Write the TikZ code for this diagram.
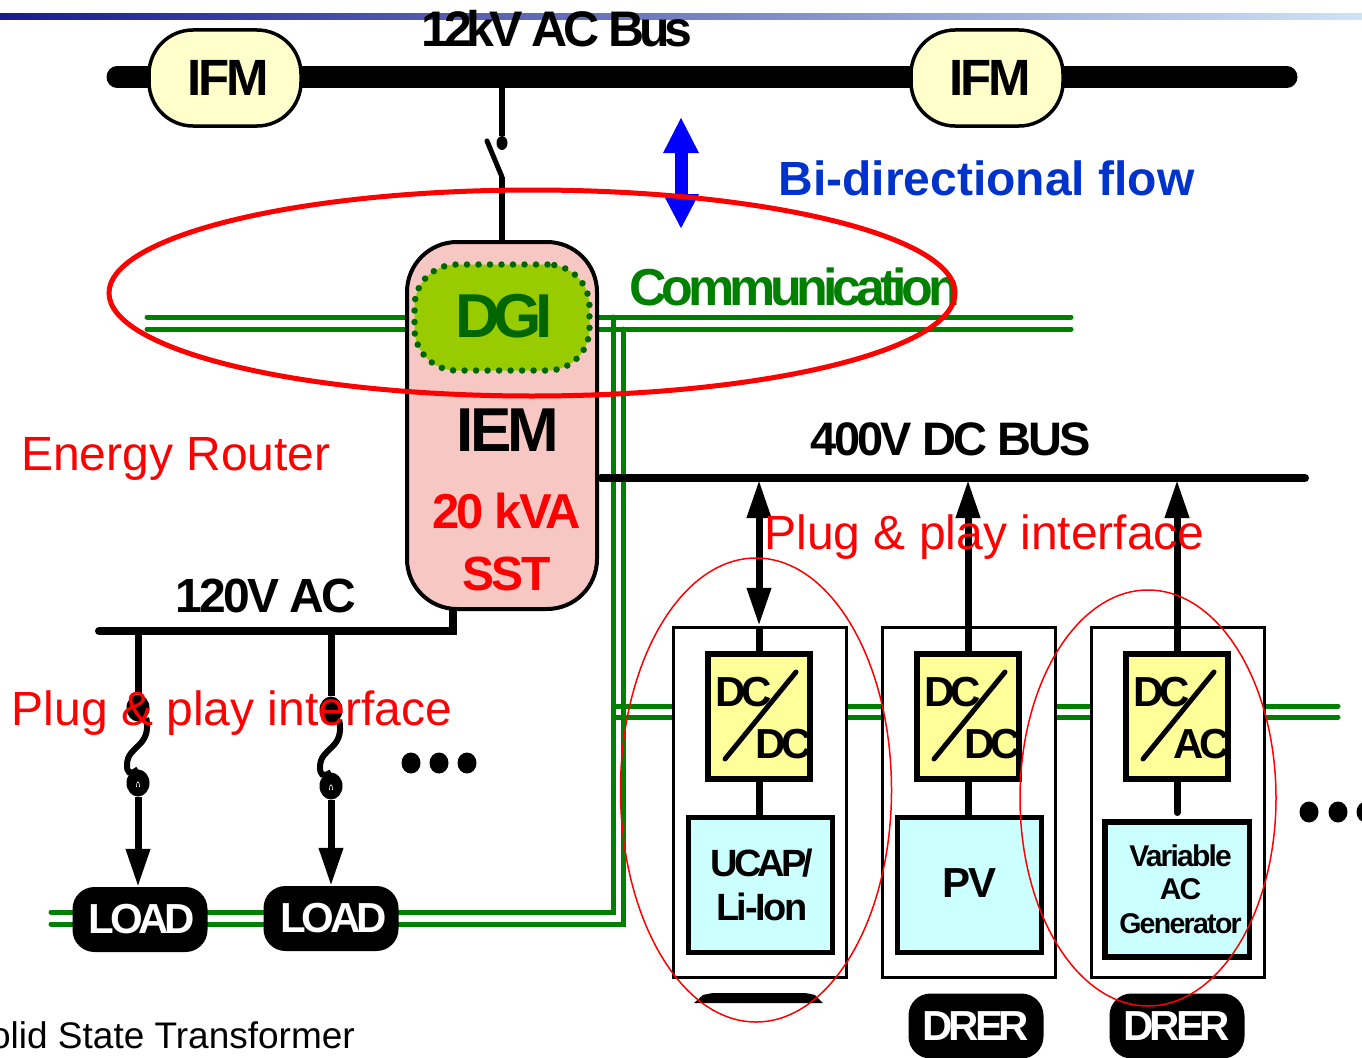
\documentclass[tikz,border=0pt]{standalone}
\usepackage{fontspec}
\setmainfont{Liberation Sans}
\newfontfamily\tightfont[LetterSpace=-6]{Liberation Sans}
\newfontfamily\tighterfont[LetterSpace=-10]{Liberation Sans}
\usetikzlibrary{arrows.meta,shapes.geometric,shapes.misc}
\definecolor{barleft}{HTML}{1A1A90}
\definecolor{barright}{HTML}{CFE3F5}
\definecolor{ifmfill}{HTML}{FFFFCC}
\definecolor{sstfill}{HTML}{F6C7C3}
\definecolor{dgifill}{HTML}{99CC00}
\definecolor{dgidark}{HTML}{006600}
\definecolor{commgreen}{HTML}{008000}
\definecolor{convfill}{HTML}{FFFF99}
\definecolor{srcfill}{HTML}{CCFFFF}
\definecolor{flowblue}{HTML}{0033CC}
\newcommand{\fsz}[1]{\fontsize{#1}{#1}\selectfont}
\newcommand{\heavy}[1]{\fsz{#1}\tightfont\bfseries}
\newcommand{\heavier}[1]{\fsz{#1}\tighterfont\bfseries}
\begin{document}
\begin{tikzpicture}[
    x=1pt, y=-1pt,
    >={Triangle[width=23pt,length=38pt]},
    busline/.style={line width=7pt, line cap=round},
    conn/.style={line width=7pt},
    comm/.style={commgreen, line width=5pt, line cap=round},
    ifm/.style={draw, line width=3.5pt, fill=ifmfill, rounded corners=44pt, minimum width=152pt, minimum height=96pt, inner sep=0pt, font=\heavy{51}},
    tag/.style={fill=black, text=white, rounded corners=22pt, minimum width=135pt, minimum height=65pt, inner sep=0pt, font=\heavier{42}},
    holder/.style={draw, line width=3.5pt, fill=white, minimum width=173pt, minimum height=350pt, inner sep=0pt},
    conv/.style={draw, line width=6pt, fill=convfill, minimum width=102pt, minimum height=125pt, inner sep=0pt},
    src/.style={draw, line width=5.5pt, fill=srcfill, minimum width=144pt, minimum height=135pt, inner sep=0pt},
    srctext/.style={inner sep=0pt, align=center},
    dcdc/.style={anchor=base, inner sep=0pt, font=\heavier{42}},
    redtext/.style={anchor=base, red, inner sep=0pt, font=\fsz{48}},
    dot/.style={ellipse, fill=black, minimum width=19pt, minimum height=21pt, inner sep=0pt},
    blob/.style={ellipse, fill=black, minimum width=23pt, minimum height=27pt, inner sep=0pt}
    ]
    \useasboundingbox (0,0) rectangle (1362,1057);

    % top bar and AC bus
    \shade[left color=barleft, right color=barright] (0,14) rectangle (1362,20);
    \coordinate (acleft) at (117,77);
    \coordinate (acright) at (1287,77);
    \coordinate (actap) at (502,77);
    \draw[line width=21pt, line cap=round] (acleft) -- (acright);
    \node[ifm] (ifma) at (225,78) {\hspace*{7pt}IFM};
    \node[ifm] (ifmb) at (987,78) {\hspace*{7pt}IFM};
    \node[anchor=base, inner sep=0pt, font=\heavier{50}] (acbus) at (557,47) {12kV AC Bus};

    % switch
    \node[ellipse, fill=black, minimum width=11pt, minimum height=14pt, inner sep=0pt] (swtop) at (502,143) {};
    \coordinate (swbend) at (502,177);
    \coordinate (swblade) at (487,141);
    \draw[line width=6pt] (actap) -- (swtop);
    \draw[line width=5pt, line cap=round] (swblade) -- (swbend);

    % communication lines
    \coordinate (commwa) at (147,317);
    \coordinate (commwb) at (147,329);
    \coordinate (commea) at (1071,317);
    \coordinate (commeb) at (1071,329);
    \coordinate (commja) at (613,317);
    \coordinate (commjb) at (623,329);
    \coordinate (commsa) at (613,912);
    \coordinate (commsb) at (623,924);
    \coordinate (commla) at (51,912);
    \coordinate (commlb) at (51,924);
    \coordinate (commda) at (616,706);
    \coordinate (commdb) at (616,717);
    \coordinate (commra) at (1338,706);
    \coordinate (commrb) at (1338,717);
    \draw[comm] (commwa) -- (commea);
    \draw[comm] (commwb) -- (commeb);
    \draw[comm] (commja) -- (commsa) -- (commla);
    \draw[comm] (commjb) -- (commsb) -- (commlb);
    \draw[comm] (commda) -- (commra);
    \draw[comm] (commdb) -- (commrb);

    % energy router
    \node[draw, line width=4pt, fill=sstfill, rounded corners=50pt, minimum width=190pt, minimum height=367pt, inner sep=0pt] (sst) at (502,425.5) {};
    \draw[line width=6pt] (swbend) -- (sst.north -| swbend);
    \node[draw=dgidark, line width=6.5pt, line cap=round, dash pattern=on 0pt off 11.5pt, fill=dgifill, rounded corners=42pt, minimum width=175pt, minimum height=106pt, inner sep=0pt] (dgi) at (502,317.5) {};
    \node[anchor=base, dgidark, inner sep=0pt, font=\heavier{62}] (dgitext) at (504,337) {DGI};
    \node[anchor=base, inner sep=0pt, font=\heavy{62}] (iem) at (508,451) {IEM};
    \node[anchor=base, red, inner sep=0pt, font=\heavy{49}] (kva) at (506.5,528) {20 kVA};
    \node[anchor=base, red, inner sep=0pt, font=\heavy{48}] (ssttext) at (506.5,590) {SST};

    % bus labels
    \node[anchor=base, commgreen, inner sep=0pt, font=\heavier{52}] (commtext) at (794.5,305) {Communication};
    \node[anchor=base, flowblue, inner sep=0pt, font=\fsz{48}\bfseries] (flowtext) at (986.5,195) {Bi-directional flow};
    \coordinate (flowtop) at (681,117);
    \coordinate (flowbot) at (681,229);
    \draw[blue, line width=13pt, {Triangle[width=33pt,length=36pt]}-{Triangle[width=33pt,length=35pt]}] (flowtop) -- (flowbot);
    \node[redtext] (router) at (176,470) {Energy Router};

    % DC bus
    \coordinate (dcleft) at (601,478);
    \coordinate (dcright) at (1305,478);
    \draw[line width=8pt, line cap=round] (dcleft) -- (dcright);
    \node[anchor=base, inner sep=0pt, font=\heavy{47}] (dcbus) at (951,455) {400V DC BUS};

    % 120V AC side
    \coordinate (lvleft) at (99,631);
    \coordinate (lvbend) at (453,631);
    \draw[busline, line width=8pt] (sst.south -| lvbend) -- (lvbend) -- (lvleft);
    \node[anchor=base, inner sep=0pt, font=\heavy{48}] (lvbus) at (266,612) {120V AC};
    \coordinate (lvtapa) at (138,631);
    \coordinate (lvtapb) at (331,631);
    \node[blob] (fusea) at (138,708) {};
    \node[blob] (fuseb) at (331,710) {};
    \node[blob] (fusec) at (138,783) {};
    \node[blob] (fused) at (331,786) {};
    \node[tag] (loada) at (140,919.5) {\hspace*{4pt}LOAD};
    \node[tag] (loadb) at (331,918.5) {\hspace*{5pt}LOAD};
    \draw[conn] (lvtapa) -- (fusea);
    \draw[conn] (lvtapb) -- (fuseb);
    \draw[line width=6pt] (fusea.-50) .. controls (152,748) and (127,745) .. (127,765) .. controls (127,772) and (129,776) .. (fusec.north);
    \draw[line width=6pt] (fuseb.-50) .. controls (345,750) and (320,747) .. (320,767) .. controls (320,774) and (322,778) .. (fused.north);
    \draw[white, line width=.6pt] (136.5,787) .. controls (136.5,780) and (139.5,780) .. (139.5,787);
    \draw[white, line width=.6pt] (329.5,790) .. controls (329.5,783) and (332.5,783) .. (332.5,790);
    \draw[conn,->] (fusec) -- (fusec |- loada.north);
    \draw[conn,->] (fused) -- (fused |- loadb.north);
    \node[dot] (dotsa) at (411,763) {};
    \node[dot] (dotsb) at (439,763) {};
    \node[dot] (dotsc) at (467,763) {};

    % DER columns
    \node[holder] (holda) at (760,802.5) {};
    \node[holder] (holdb) at (969,802.5) {};
    \node[holder] (holdc) at (1178,802.5) {};
    \node[conv] (conva) at (759,716.5) {};
    \node[conv] (convb) at (968,716.5) {};
    \node[conv] (convc) at (1177,716.5) {};
    \node[src] (srca) at (760.5,885) {};
    \node[src] (srcb) at (969.5,885) {};
    \node[src, minimum width=144.5pt] (srcc) at (1177,889.5) {};
    \node[srctext, font=\heavier{38}] (srcatext) at (762,885) {UCAP/\\[6pt]{\tightfont\bfseries Li-Ion}};
    \node[srctext, font=\heavy{42}] (srcbtext) at (969.5,883) {PV};
    \node[srctext, font=\heavy{30}] (srcctext) at (1180.5,889) {Variable\\[3pt]AC\\[4pt]{\fsz{28.5}Generator}};
    \coordinate (dctapa) at (759,480);
    \coordinate (dctapb) at (968,480);
    \coordinate (dctapc) at (1177,480);
    \coordinate (stubc) at (1177,812.5);
    \draw[conn,<->] (dctapa) -- (conva.north |- holda.north);
    \draw[conn] (holda.north -| conva) -- (conva.north);
    \draw[conn,->] (convb.north) -- (dctapb);
    \draw[conn,->] (convc.north) -- (dctapc);
    \draw[conn] (conva.south) -- (srca.north -| conva);
    \draw[conn] (convb.south) -- (srcb.north -| convb);
    \draw[conn, line cap=round] (convc.south) -- (stubc);
    \draw[line width=5pt, line cap=round] (725,759) -- (796,672);
    \draw[line width=5pt, line cap=round] (934,759) -- (1005,672);
    \draw[line width=5pt, line cap=round] (1143,759) -- (1214,672);
    \node[dcdc] (dca) at (744,706) {DC};
    \node[dcdc] (dcb) at (784,758) {DC};
    \node[dcdc] (dcc) at (953,706) {DC};
    \node[dcdc] (dcd) at (993,758) {DC};
    \node[dcdc] (dce) at (1162,706) {DC};
    \node[dcdc] (acf) at (1202,758) {AC};
    \node[dot] (dotsd) at (1309,812) {};
    \node[dot] (dotse) at (1338,812) {};
    \node[dot] (dotsf) at (1366,812) {};
    \fill (694,1003) -- (703,995) [rounded corners=3pt] -- (712,993) -- (806,993) [sharp corners] -- (815,995) -- (823,1003) -- cycle;
    \node[tag] (drera) at (976,1026) {DRER};
    \node[tag] (drerb) at (1177,1026) {DRER};

    % red marks on top
    \draw[red, line width=5pt] (532,293) ellipse [x radius=423, y radius=103];
    \draw[red, line width=1.5pt] (756,790) ellipse [x radius=135.5, y radius=232];
    \draw[red, line width=1.5pt] (1148,798) ellipse [x radius=128, y radius=208];
    \node[redtext] (plugleft) at (232,725) {Plug \& play interface};
    \node[redtext] (plugright) at (984.5,549) {Plug \& play interface};
    \node[anchor=base east, inner sep=0pt, font=\fsz{37}] (solid) at (355,1048) {Solid State Transformer};
\end{tikzpicture}
\end{document}
